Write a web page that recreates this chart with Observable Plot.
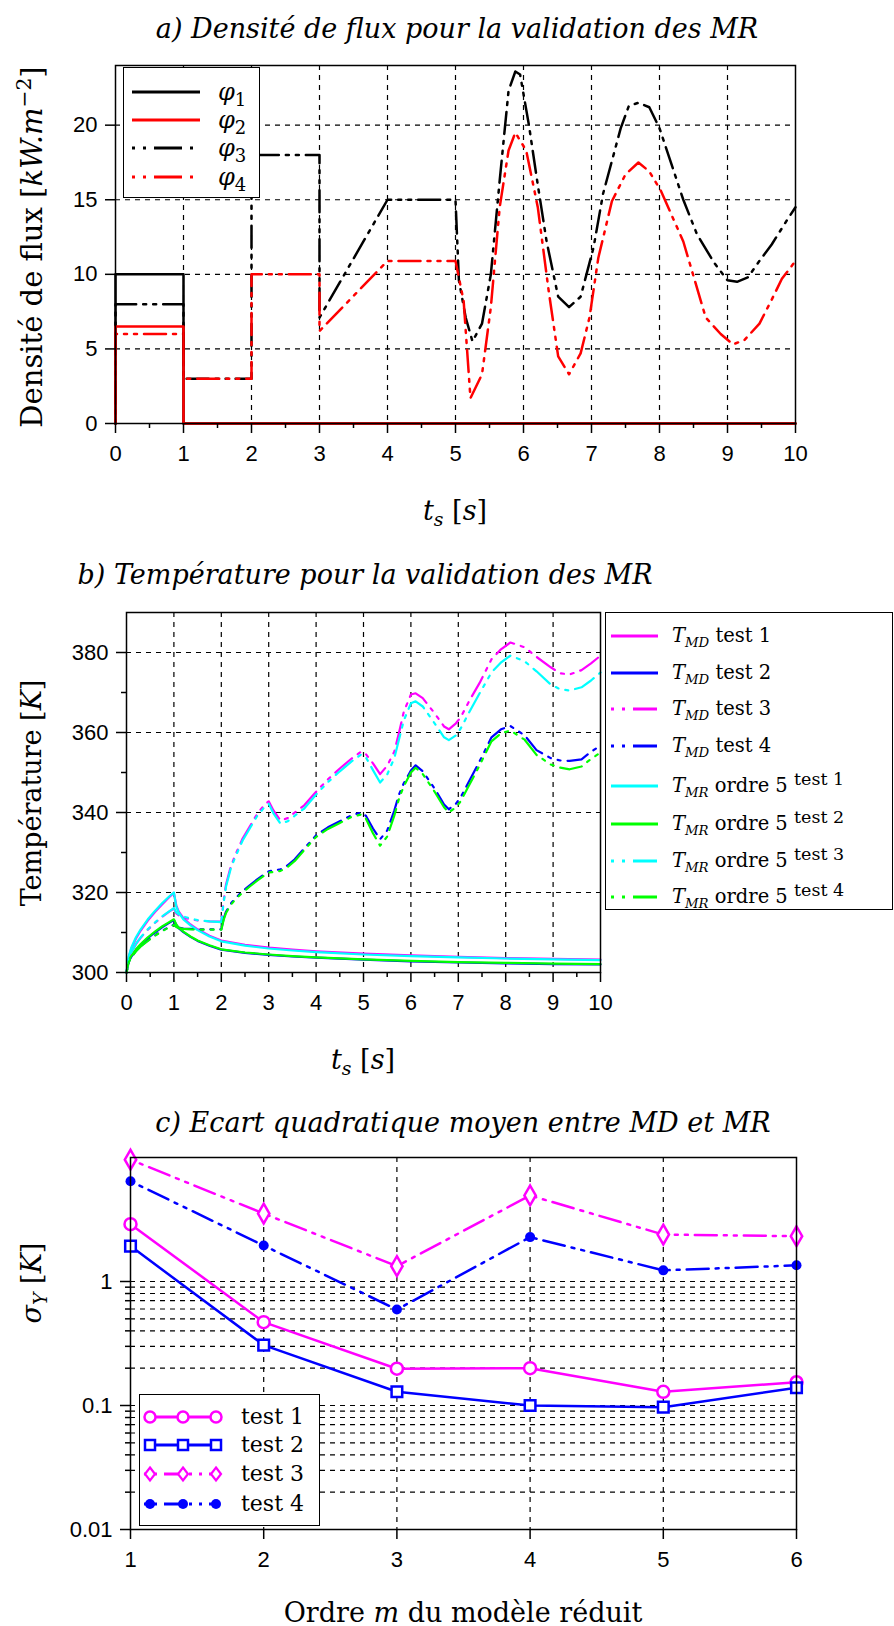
<!DOCTYPE html>
<html><head><meta charset="utf-8">
<script src="https://cdn.jsdelivr.net/npm/d3@7"></script>
<script src="https://cdn.jsdelivr.net/npm/@observablehq/plot@0.6"></script>
<style>
html,body{margin:0;padding:0;background:#fff;}
#root{position:relative;width:894px;height:1626px;overflow:hidden;background:#fff;}
.abs{position:absolute;white-space:nowrap;line-height:1;color:#000;}
.ttl{font-family:"DejaVu Serif",serif;font-style:italic;font-size:27px;}
.lab{font-family:"DejaVu Serif",serif;font-size:27px;}
.leg{position:absolute;background:#fff;border:1.5px solid #000;box-sizing:border-box;overflow:hidden;}
.legtxt{position:absolute;white-space:nowrap;line-height:1;font-family:"DejaVu Serif",serif;color:#000;transform:translateY(-50%);}
sub,sup{line-height:0;}
</style></head><body><div id="root"></div>
<script>
// ---------- Panel a : flux densities ----------
const tPhi1 = [0, 0, 1, 1, 10];
const phi1  = [0, 10, 10, 0, 0];
const tPhi2 = [0, 0, 1, 1, 10];
const phi2  = [0, 6.5, 6.5, 0, 0];
const tPhi3 = [0, 0, 1, 1, 2, 2, 3, 3, 4, 5,
  5.05, 5.15, 5.25, 5.39, 5.52, 5.65, 5.78, 5.88, 5.95, 6.08,
  6.21, 6.34, 6.51, 6.67, 6.84, 7.03, 7.17, 7.43, 7.55, 7.69,
  7.85, 8.0, 8.35, 8.55, 8.8, 9.0, 9.14, 9.3, 9.47, 9.65, 9.87, 10];
const phi3  = [0, 8, 8, 3, 3, 18, 18, 7.1, 15, 15,
  9.6, 7.1, 5.5, 6.7, 10, 16.3, 22.3, 23.6, 23.4, 20,
  16, 12.2, 8.5, 7.8, 8.5, 11.8, 15.4, 19.8, 21.3, 21.5,
  21.2, 19.8, 15, 12.7, 10.8, 9.6, 9.5, 9.8, 10.9, 12, 13.6, 14.5];
const tPhi4 = [0, 0, 1, 1, 2, 2, 3, 3, 4, 5,
  5.12, 5.22, 5.39, 5.52, 5.65, 5.78, 5.88, 6.04, 6.21, 6.37,
  6.51, 6.67, 6.84, 6.97, 7.1, 7.3, 7.5, 7.69, 7.85, 8.02,
  8.35, 8.68, 8.9, 9.08, 9.25, 9.47, 9.65, 9.8, 10];
const phi4  = [0, 6, 6, 3, 3, 10, 10, 6.2, 10.9, 10.9,
  8.2, 1.7, 3.3, 7.8, 14.5, 18.3, 19.5, 18.3, 14.5, 8.9,
  4.5, 3.3, 4.7, 7.1, 11.1, 14.9, 16.7, 17.5, 16.9, 15.6,
  12.2, 7.1, 6, 5.3, 5.6, 6.7, 8.3, 9.7, 10.9];
const xTicksA = [0,1,2,3,4,5,6,7,8,9,10];
const xMinorA = [0.5,1.5,2.5,3.5,4.5,5.5,6.5,7.5,8.5,9.5];
const xGridA  = [1,2,3,4,5,6,7,8,9];
const yTicksA = [0,5,10,15,20];
const yGridA  = [5,10,15,20];

// ---------- Panel b : temperatures ----------
const tT12 = [0, 0.05, 0.1, 0.2, 0.3, 0.45, 0.6, 0.75,
  0.9, 1.0, 1.05, 1.1, 1.2, 1.35, 1.5, 1.75,
  2.0, 2.5, 3.0, 3.5, 4.0, 5.0, 6.0, 7.0,
  8.0, 9.0, 10.0];
const tmdTest1 = [300, 303.9, 305.9, 308.5, 310.5, 313, 315.1, 317,
  318.8, 319.9, 316.8, 315.3, 313.6, 312, 310.8, 309.2,
  308, 306.9, 306.2, 305.7, 305.3, 304.7, 304.3, 303.9,
  303.6, 303.4, 303.2];
const tmdTest2 = [300, 302.8, 303.9, 305.6, 306.9, 308.6, 310, 311.3,
  312.4, 313.1, 311.9, 311.1, 310.1, 308.9, 307.9, 306.7,
  305.7, 304.9, 304.4, 304, 303.7, 303.2, 302.8, 302.5,
  302.3, 302.1, 302];
const tmrTest1 = [300, 304.2, 306.2, 308.8, 310.8, 313.3, 315.4, 317.3,
  319, 320, 316.5, 315, 313.3, 311.8, 310.6, 309,
  307.8, 306.7, 306, 305.5, 305.1, 304.5, 304.1, 303.8,
  303.5, 303.3, 303.1];
const tmrTest2 = [300, 303, 304.1, 305.8, 307.1, 308.8, 310.2, 311.5,
  312.6, 313.3, 312, 311.2, 310.2, 309, 308, 306.8,
  305.8, 305, 304.5, 304.1, 303.8, 303.3, 302.9, 302.6,
  302.4, 302.2, 302.1];
const tT34 = [0, 0.05, 0.1, 0.2, 0.3, 0.45, 0.6, 0.75,
  0.9, 1.0, 1.05, 1.1, 1.2, 1.35, 1.5, 1.75,
  2.0, 2.05, 2.1, 2.2, 2.3, 2.45, 2.6, 2.75,
  2.9, 3.0, 3.1, 3.25, 3.4, 3.55, 3.75, 4.0,
  4.25, 4.5, 4.75, 4.95, 5.05, 5.2, 5.35, 5.5,
  5.65, 5.75, 5.85, 6.0, 6.1, 6.25, 6.5, 6.7,
  6.8, 6.95, 7.05, 7.25, 7.45, 7.7, 7.9, 8.1,
  8.4, 8.65, 8.95, 9.15, 9.35, 9.6, 9.8, 10.0];
const tmdTest3 = [300, 303.4, 305, 307.1, 308.7, 310.7, 312.4, 313.9,
  315.2, 316, 314.8, 314.3, 313.8, 313.3, 313, 312.8,
  312.7, 318, 322, 326.5, 329.5, 333.5, 336.5, 339.5,
  341.8, 342.8, 340.5, 338, 338.6, 340, 341.8, 345.2,
  348.3, 351, 353.5, 355.2, 354.6, 352.3, 349.6, 351.7,
  355.2, 360, 365.2, 369.5, 369.8, 368.6, 364.8, 361.5,
  360.8, 362.3, 363.8, 368.3, 372.4, 378.3, 380.8, 382.5,
  381.3, 378.9, 376.3, 374.8, 374.5, 375.6, 377.3, 379.2];
const tmrTest3 = [300, 303.5, 305.1, 307.2, 308.8, 310.8, 312.5, 314,
  315.3, 316.1, 315, 314.5, 314, 313.5, 313.1, 312.8,
  312.6, 317.5, 321.5, 326, 329, 333, 336, 339,
  341.2, 342.2, 339.8, 337.2, 337.8, 339.2, 341, 344.5,
  347.6, 350.3, 352.8, 354.5, 353.8, 350.6, 347.5, 349.5,
  353.6, 358.3, 363, 367.3, 367.8, 366.5, 362.3, 358.8,
  358.1, 359.3, 361, 365.5, 369.8, 375, 377.5, 379.2,
  377.8, 375.3, 372, 370.8, 370.5, 371.3, 373, 375];
const tmdTest4 = [300, 302.7, 303.8, 305.4, 306.6, 308, 309.3, 310.4,
  311.4, 312, 311.5, 311.2, 311, 310.9, 310.8, 310.8,
  310.8, 313.5, 315.2, 317.2, 318.6, 320.3, 321.8, 323.2,
  324.5, 325.3, 325.5, 325.8, 326.8, 328.3, 331, 334.3,
  336.3, 337.8, 339.3, 340, 339.2, 336, 333.3, 335.5,
  340.5, 344.5, 347.3, 350.5, 351.8, 350.3, 346, 342,
  340.8, 342.2, 343.8, 348.3, 352.8, 358.8, 360.8, 361.6,
  359.3, 355.6, 353.6, 353, 352.9, 353.3, 355.2, 356.7];
const tmrTest4 = [300, 302.6, 303.7, 305.3, 306.5, 307.9, 309.2, 310.3,
  311.3, 311.9, 311.4, 311.1, 310.9, 310.8, 310.7, 310.7,
  310.7, 313.2, 314.9, 316.9, 318.3, 320, 321.5, 322.9,
  324.2, 325, 325.1, 325.4, 326.4, 327.9, 330.6, 333.9,
  335.9, 337.4, 338.9, 339.5, 338.5, 334.8, 331.7, 334,
  339.2, 343.5, 346.6, 350, 351.2, 349.6, 345.2, 341.3,
  340, 341.3, 342.8, 347.3, 351.8, 357.8, 359.8, 360.5,
  358.2, 354.4, 352, 351.2, 350.8, 351.5, 353.4, 355];
const xTicksB = [0,1,2,3,4,5,6,7,8,9,10];
const xMinorB = [0.5,1.5,2.5,3.5,4.5,5.5,6.5,7.5,8.5,9.5];
const xGridB  = [1,2,3,4,5,6,7,8,9];
const yTicksB = [300,320,340,360,380];
const yMinorB = [310,330,350,370];
const yGridB  = [320,340,360,380];

// ---------- Panel c : RMS error vs order ----------
const orders  = [1, 2, 3, 4, 5, 6];
const sigTest1 = [2.9, 0.47, 0.198, 0.2, 0.129, 0.154];
const sigTest2 = [1.93, 0.307, 0.129, 0.1, 0.097, 0.139];
const sigTest3 = [9.6, 3.53, 1.33, 4.94, 2.39, 2.32];
const sigTest4 = [6.44, 1.95, 0.594, 2.28, 1.23, 1.35];
const xTicksC = [1,2,3,4,5,6];
const xGridC  = [2,3,4,5];
const yTicksC = [0.01, 0.1, 1];
const yMinorC = [0.02,0.03,0.04,0.05,0.06,0.07,0.08,0.09,0.2,0.3,0.4,0.5,0.6,0.7,0.8,0.9];
const yGridC  = [0.02,0.03,0.04,0.05,0.06,0.07,0.08,0.09,0.1,0.2,0.3,0.4,0.5,0.6,0.7,0.8,0.9,1];

// ---------- helpers ----------
const root = document.getElementById("root");
const pts = (ts, vs) => ts.map((t, i) => ({t, v: vs[i]}));
const MAG = "#ff00ff", BLU = "#0000ff", CYA = "#00ffff", GRN = "#00ff00", RED = "#ff0000", BLK = "#000000";
const DASHDOT = "3,7,3,7,22,7";
const gridOpts = {stroke: BLK, strokeOpacity: 1, strokeWidth: 1.2, strokeDasharray: "5,5"};
const baseStyle = {fontFamily: "'Liberation Sans', Arial, sans-serif", fontSize: "22px", color: "#000", background: "transparent", overflow: "visible"};
const axXOpts = {tickSize: 10, tickPadding: 12, label: null, strokeWidth: 1.5, fontSize: 22, tickFormat: d => String(d)};
const axYOpts = {tickSize: 10, tickPadding: 8, label: null, strokeWidth: 1.5, fontSize: 22, tickFormat: d => String(d)};
const minOpts = {tickSize: 5, tickFormat: () => "", label: null, strokeWidth: 1.5};

function mount(svg, top) {
  svg.style.position = "absolute";
  svg.style.left = "0px";
  svg.style.top = top + "px";
  root.appendChild(svg);
}

// Panel a
mount(Plot.plot({
  width: 894, height: 540,
  marginLeft: 115, marginRight: 99, marginTop: 65, marginBottom: 117,
  x: {domain: [0, 10]}, y: {domain: [0, 24]},
  style: baseStyle,
  marks: [
    Plot.gridX(xGridA, gridOpts),
    Plot.gridY(yGridA, gridOpts),
    Plot.line(pts(tPhi3, phi3), {x: "t", y: "v", stroke: BLK, strokeWidth: 2.5, strokeDasharray: DASHDOT}),
    Plot.line(pts(tPhi4, phi4), {x: "t", y: "v", stroke: RED, strokeWidth: 2.5, strokeDasharray: DASHDOT}),
    Plot.line(pts(tPhi1, phi1), {x: "t", y: "v", stroke: BLK, strokeWidth: 2.5}),
    Plot.line(pts(tPhi2, phi2), {x: "t", y: "v", stroke: RED, strokeWidth: 2.5}),
    Plot.frame({stroke: BLK, strokeWidth: 1.5}),
    Plot.axisX(xTicksA, axXOpts),
    Plot.axisX(xMinorA, minOpts),
    Plot.axisY(yTicksA, axYOpts)
  ]
}), 0);

// Panel b
mount(Plot.plot({
  width: 894, height: 560,
  marginLeft: 126, marginRight: 294, marginTop: 72, marginBottom: 128,
  x: {domain: [0, 10]}, y: {domain: [300, 390]},
  style: baseStyle,
  marks: [
    Plot.gridX(xGridB, gridOpts),
    Plot.gridY(yGridB, gridOpts),
    Plot.line(pts(tT12, tmdTest1), {x: "t", y: "v", stroke: MAG, strokeWidth: 2.2}),
    Plot.line(pts(tT12, tmdTest2), {x: "t", y: "v", stroke: BLU, strokeWidth: 2.2}),
    Plot.line(pts(tT34, tmdTest3), {x: "t", y: "v", stroke: MAG, strokeWidth: 2.2, strokeDasharray: DASHDOT}),
    Plot.line(pts(tT34, tmdTest4), {x: "t", y: "v", stroke: BLU, strokeWidth: 2.2, strokeDasharray: DASHDOT}),
    Plot.line(pts(tT12, tmrTest1), {x: "t", y: "v", stroke: CYA, strokeWidth: 2.2}),
    Plot.line(pts(tT12, tmrTest2), {x: "t", y: "v", stroke: GRN, strokeWidth: 2.2}),
    Plot.line(pts(tT34, tmrTest3), {x: "t", y: "v", stroke: CYA, strokeWidth: 2.2, strokeDasharray: DASHDOT}),
    Plot.line(pts(tT34, tmrTest4), {x: "t", y: "v", stroke: GRN, strokeWidth: 2.2, strokeDasharray: DASHDOT}),
    Plot.frame({stroke: BLK, strokeWidth: 1.5}),
    Plot.axisX(xTicksB, axXOpts),
    Plot.axisX(xMinorB, minOpts),
    Plot.axisY(yTicksB, axYOpts),
    Plot.axisY(yMinorB, minOpts)
  ]
}), 540);

// Panel c
const dC = (vs) => pts(orders, vs);
mount(Plot.plot({
  width: 894, height: 526,
  marginLeft: 130, marginRight: 98, marginTop: 57, marginBottom: 97,
  x: {domain: [1, 6]}, y: {type: "log", domain: [0.01, 10]},
  style: baseStyle,
  marks: [
    Plot.gridX(xGridC, gridOpts),
    Plot.gridY(yGridC, gridOpts),
    Plot.line(dC(sigTest3), {x: "t", y: "v", stroke: MAG, strokeWidth: 2.5, strokeDasharray: DASHDOT}),
    Plot.line(dC(sigTest4), {x: "t", y: "v", stroke: BLU, strokeWidth: 2.5, strokeDasharray: DASHDOT}),
    Plot.line(dC(sigTest1), {x: "t", y: "v", stroke: MAG, strokeWidth: 2.5}),
    Plot.line(dC(sigTest2), {x: "t", y: "v", stroke: BLU, strokeWidth: 2.5}),
    Plot.dot(dC(sigTest1), {x: "t", y: "v", stroke: MAG, fill: "white", r: 6, strokeWidth: 2.5}),
    Plot.dot(dC(sigTest2), {x: "t", y: "v", stroke: BLU, fill: "white", r: 6, symbol: "square", strokeWidth: 2.5}),
    Plot.dot(dC(sigTest3), {x: "t", y: "v", stroke: MAG, fill: "white", r: 6, symbol: "diamond", strokeWidth: 2.5}),
    Plot.dot(dC(sigTest4), {x: "t", y: "v", fill: BLU, r: 5, symbol: "circle"}),
    Plot.frame({stroke: BLK, strokeWidth: 1.5}),
    Plot.axisX(xTicksC, axXOpts),
    Plot.axisY(yTicksC, axYOpts),
    Plot.axisY(yMinorC, minOpts)
  ]
}), 1100);

// ---------- text: titles & axis labels ----------
function place(html, cls, x, y, rot, size) {
  const d = document.createElement("div");
  d.className = "abs " + cls;
  d.innerHTML = html;
  d.style.left = x + "px";
  d.style.top = y + "px";
  if (size) d.style.fontSize = size + "px";
  d.style.transform = "translate(-50%,-50%)" + (rot ? " rotate(-90deg)" : "");
  root.appendChild(d);
}
place("a) Densité de flux pour la validation des MR", "ttl", 457, 28);
place("b) Température pour la validation des MR", "ttl", 365, 574);
place("c) Ecart quadratique moyen entre MD et MR", "ttl", 463, 1122);
place("Densité de flux [<i>kW.m</i><sup style='font-size:70%'>−2</sup>]", "lab", 32, 247, true, 29);
place("Température [<i>K</i>]", "lab", 31, 793, true);
place("<i>σ</i><sub style='font-size:70%'><i>Y</i></sub> [<i>K</i>]", "lab", 31, 1283, true);
place("<i>t</i><sub style='font-size:70%'><i>s</i></sub> [<i>s</i>]", "lab", 455, 510);
place("<i>t</i><sub style='font-size:70%'><i>s</i></sub> [<i>s</i>]", "lab", 363, 1059);
place("Ordre <i>m</i> du modèle réduit", "lab", 463, 1612);

// ---------- legends ----------
function sampleSvg(w, h, y, x1, x2, color, dash, marker) {
  let s = `<svg width="${w}" height="${h}" style="position:absolute;left:0;top:0;overflow:visible">`;
  s += `<line x1="${x1}" x2="${x2}" y1="${y}" y2="${y}" stroke="${color}" stroke-width="3" ${dash ? `stroke-dasharray="${dash}"` : ""}/>`;
  if (marker) {
    for (const mx of marker.xs) {
      if (marker.type === "circle") s += `<circle cx="${mx}" cy="${y}" r="5.5" fill="white" stroke="${color}" stroke-width="2.5"/>`;
      if (marker.type === "square") s += `<rect x="${mx-5}" y="${y-5}" width="10" height="10" fill="white" stroke="${color}" stroke-width="2.5"/>`;
      if (marker.type === "diamond") s += `<path d="M${mx},${y-6.5}L${mx+5},${y}L${mx},${y+6.5}L${mx-5},${y}Z" fill="white" stroke="${color}" stroke-width="2.2"/>`;
      if (marker.type === "dot") s += `<circle cx="${mx}" cy="${y}" r="5" fill="${color}"/>`;
    }
  }
  return s + "</svg>";
}
function legend(left, top, w, h, rows, lineX1, lineX2, textX, fontSize) {
  const box = document.createElement("div");
  box.className = "leg";
  box.style.left = left + "px"; box.style.top = top + "px";
  box.style.width = w + "px"; box.style.height = h + "px";
  let inner = "";
  for (const r of rows) inner += sampleSvg(w, h, r.y, lineX1, lineX2, r.color, r.dash, r.marker);
  for (const r of rows) inner += `<div class="legtxt" style="left:${textX}px;top:${r.y}px;font-size:${fontSize}px">${r.html}</div>`;
  box.innerHTML = inner;
  root.appendChild(box);
}
const legA = ["1", "2", "3", "4"];
legend(123, 67, 137, 131, [
  {y: 24, color: BLK, dash: null, html: `<i>φ</i><sub style="font-size:75%">${legA[0]}</sub>`},
  {y: 52, color: RED, dash: null, html: `<i>φ</i><sub style="font-size:75%">${legA[1]}</sub>`},
  {y: 80, color: BLK, dash: "3,8,3,8,28,8", html: `<i>φ</i><sub style="font-size:75%">${legA[2]}</sub>`},
  {y: 109, color: RED, dash: "3,8,3,8,28,8", html: `<i>φ</i><sub style="font-size:75%">${legA[3]}</sub>`}
], 8, 76, 94, 24);

const md = (n) => `<i>T</i><sub style="font-size:68%"><i>MD</i></sub> test ${n}`;
const mr = (n) => `<i>T</i><sub style="font-size:68%"><i>MR</i></sub> ordre 5 <sup style="font-size:90%">test ${n}</sup>`;
legend(605, 612, 288, 298, [
  {y: 23, color: MAG, dash: null, html: md(1)},
  {y: 60, color: BLU, dash: null, html: md(2)},
  {y: 96, color: MAG, dash: "3,8,3,8,24,8", html: md(3)},
  {y: 133, color: BLU, dash: "3,8,3,8,24,8", html: md(4)},
  {y: 173, color: CYA, dash: null, html: mr(1)},
  {y: 211, color: GRN, dash: null, html: mr(2)},
  {y: 248, color: CYA, dash: "3,8,3,8,24,8", html: mr(3)},
  {y: 284, color: GRN, dash: "3,8,3,8,24,8", html: mr(4)}
], 5, 52, 66, 19.5);

legend(139, 1394, 181, 132, [
  {y: 22, color: MAG, dash: null, marker: {type: "circle", xs: [10, 43, 76]}, html: "test 1"},
  {y: 50, color: BLU, dash: null, marker: {type: "square", xs: [10, 43, 76]}, html: "test 2"},
  {y: 79, color: MAG, dash: "3,7,3,7,18,7", marker: {type: "diamond", xs: [10, 43, 76]}, html: "test 3"},
  {y: 109, color: BLU, dash: "3,7,3,7,18,7", marker: {type: "dot", xs: [10, 43, 76]}, html: "test 4"}
], 4, 80, 101, 22);
</script></body></html>
